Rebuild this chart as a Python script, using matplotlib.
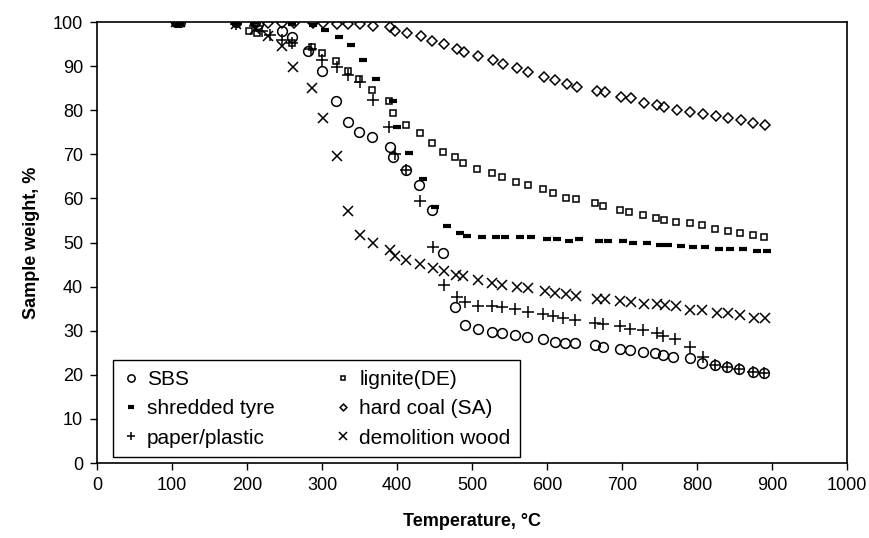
import matplotlib
matplotlib.use("Agg")
import matplotlib.pyplot as plt

plt.rcParams['font.family'] = ['Liberation Sans', 'DejaVu Sans']

# ---- data (temperature °C, sample weight %) ----
sbs_t = [105, 110, 185, 210, 215, 247, 260, 281, 300, 319, 335, 349, 366, 391, 395, 412, 429, 447, 461, 477,
         491, 508, 527, 540, 557, 573, 595, 611, 624, 637, 664, 675, 697, 711, 728, 744, 755, 768, 791, 807,
         824, 840, 856, 875, 889]
sbs_w = [100, 100, 100, 100, 99.5, 98, 96.6, 93.5, 88.9, 82.2, 77.4, 75.1, 73.9, 71.6, 69.5, 66.4, 63.0, 57.4, 47.6, 35.4,
         31.3, 30.4, 29.7, 29.5, 29.0, 28.6, 28.1, 27.4, 27.2, 27.2, 26.8, 26.3, 25.9, 25.6, 25.2, 24.9, 24.5, 24.0, 23.7, 22.7,
         22.2, 21.8, 21.3, 20.6, 20.4]

lig_t = [105, 110, 185, 203, 213, 260, 286, 300, 319, 334, 349, 366, 389, 395, 412, 431, 447, 461, 477, 488,
         507, 527, 540, 559, 575, 595, 608, 625, 639, 664, 675, 697, 709, 728, 745, 756, 772, 790, 807, 824,
         841, 857, 874, 889]
lig_w = [100, 100, 100, 98, 97.5, 95.2, 94.4, 92.9, 91.2, 88.9, 87.0, 84.7, 82.2, 79.3, 76.6, 74.8, 72.5, 70.6, 69.5, 68.0,
         66.6, 65.7, 64.8, 63.8, 63.0, 62.1, 61.2, 60.2, 59.8, 58.9, 58.3, 57.4, 57.0, 56.2, 55.6, 55.1, 54.7, 54.5, 54.0, 53.0,
         52.7, 52.1, 51.7, 51.2]

tyre_t = [105, 110, 185, 210, 260, 288, 304, 323, 339, 355, 372, 395, 400, 416, 435, 451, 467, 484, 493, 513,
          532, 544, 564, 579, 600, 613, 629, 643, 669, 681, 701, 715, 733, 751, 761, 778, 795, 811, 829, 844,
          861, 880, 893]
tyre_w = [100, 100, 100, 100, 99.5, 99.3, 98.3, 96.5, 94.8, 91.5, 87.0, 82.2, 76.1, 70.3, 64.4, 58.0, 53.7, 52.2, 51.5, 51.2,
          51.2, 51.2, 51.2, 51.2, 50.7, 50.7, 50.3, 50.7, 50.3, 50.3, 50.3, 49.8, 50.0, 49.4, 49.4, 49.3, 48.9, 48.9, 48.5, 48.5,
          48.5, 48.1, 48.1]

coal_t = [105, 110, 185, 210, 228, 247, 262, 288, 301, 320, 335, 351, 368, 391, 397, 413, 432, 447, 463, 480,
          489, 508, 528, 541, 560, 575, 596, 611, 627, 640, 667, 677, 699, 712, 729, 747, 756, 773, 791, 808,
          825, 841, 859, 875, 891]
coal_w = [100, 100, 100, 100, 99.8, 99.8, 99.8, 99.8, 99.8, 99.5, 99.5, 99.5, 99.1, 98.8, 98.0, 97.6, 96.8, 95.7, 95.0, 94.0,
          93.3, 92.3, 91.4, 90.5, 89.5, 88.6, 87.6, 86.8, 85.9, 85.3, 84.4, 84.1, 83.1, 82.7, 81.7, 81.2, 80.8, 80.0, 79.5, 79.1,
          78.7, 78.2, 77.8, 77.2, 76.6]

paper_t = [105, 110, 185, 210, 220, 230, 247, 260, 285, 300, 320, 335, 351, 368, 389, 397, 412, 431, 448, 463,
           480, 491, 508, 527, 540, 557, 575, 595, 608, 621, 637, 664, 675, 697, 711, 728, 747, 755, 771, 791,
           808, 824, 840, 856, 875, 889]
paper_w = [100, 100, 99.5, 99, 98, 97, 96, 95.2, 93.8, 91.4, 89.8, 88.0, 86.4, 82.3, 76.2, 70.1, 66.4, 59.4, 49.0, 40.4,
           37.6, 36.5, 35.6, 35.6, 35.3, 34.9, 34.3, 33.8, 33.3, 32.8, 32.4, 31.8, 31.5, 31.1, 30.5, 30.2, 29.4, 28.8, 28.1, 26.4,
           24.1, 22.2, 21.8, 21.3, 20.6, 20.4]

wood_t = [105, 110, 185, 210, 228, 247, 261, 286, 301, 320, 335, 351, 368, 391, 397, 412, 431, 448, 463, 479,
          488, 508, 527, 540, 560, 575, 597, 611, 625, 639, 667, 677, 697, 712, 729, 747, 757, 772, 791, 807,
          827, 841, 857, 876, 891]
wood_w = [100, 100, 99.5, 98.5, 96.8, 94.6, 89.8, 85.0, 78.2, 69.6, 57.1, 51.7, 49.9, 48.3, 46.9, 46.0, 45.1, 44.2, 43.5, 42.6,
          42.4, 41.4, 40.9, 40.4, 40.0, 39.6, 39.1, 38.6, 38.3, 37.9, 37.3, 37.2, 36.8, 36.4, 36.1, 36.1, 35.8, 35.6, 34.8, 34.7,
          34.1, 34.1, 33.6, 32.8, 32.8]

x_ticks = list(range(0, 1001, 100))
y_ticks = list(range(0, 101, 10))

fig = plt.figure(figsize=(8.7, 5.38), dpi=100)
ax = fig.add_axes([0.1115, 0.1394, 0.8621, 0.8196])

common = dict(linestyle='none', color='black')
h_sbs, = ax.plot(sbs_t, sbs_w, marker='o', ms=7, mfc='none', mec='black', mew=1.1, label='SBS', **common)
h_tyre, = ax.plot(tyre_t, tyre_w, marker='_', ms=6, mew=3, label='shredded tyre', **common)
h_paper, = ax.plot(paper_t, paper_w, marker='+', ms=8.5, mew=1.1, label='paper/plastic', **common)
h_lig, = ax.plot(lig_t, lig_w, marker='s', ms=4.3, mfc='none', mec='black', mew=1.1, label='lignite(DE)', **common)
h_coal, = ax.plot(coal_t, coal_w, marker='D', ms=4.6, mfc='none', mec='black', mew=1.1, label='hard coal (SA)', **common)
h_wood, = ax.plot(wood_t, wood_w, marker='x', ms=7, mew=1.1, label='demolition wood', **common)

ax.set_xlim(0, 1000)
ax.set_ylim(0, 100)
ax.set_xticks(x_ticks)
ax.set_yticks(y_ticks)
ax.tick_params(direction='out', length=5, width=1, labelsize=13, colors='black', pad=5)
for s in ax.spines.values():
    s.set_linewidth(1.2)
    s.set_color('black')

ax.set_xlabel('Temperature, °C', fontsize=13, fontweight='bold', labelpad=14)
ax.set_ylabel('Sample weight, %', fontsize=13, fontweight='bold', labelpad=9)

leg = ax.legend(handles=[h_sbs, h_tyre, h_paper, h_lig, h_coal, h_wood], ncol=2,
                loc='lower left', bbox_to_anchor=(0.0213, 0.0136), fontsize=15,
                frameon=True, fancybox=False, edgecolor='black', framealpha=1,
                handlelength=0.8, handletextpad=0.37, labelspacing=0.5,
                columnspacing=2.9, borderpad=0.45, markerscale=0.75, borderaxespad=0)
leg.get_frame().set_linewidth(1.0)

fig.savefig('out.png', dpi=100)
